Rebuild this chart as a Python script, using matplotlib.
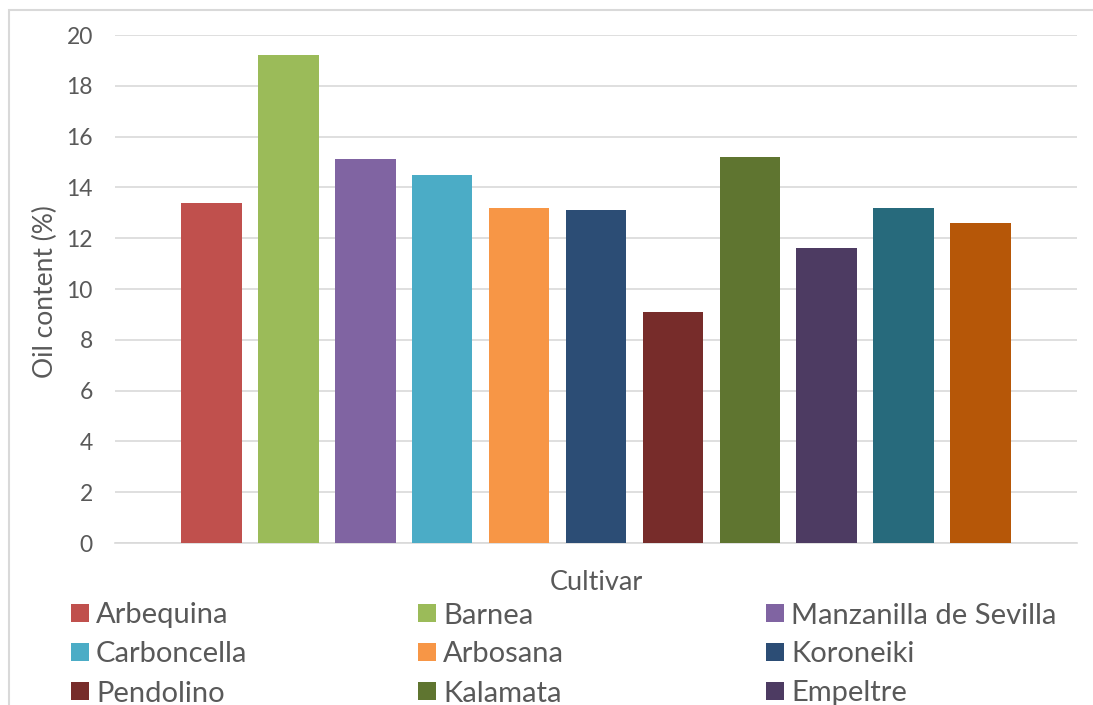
import matplotlib.pyplot as plt
from matplotlib.patches import Rectangle

# oil content per cultivar
cultivars = ["Arbequina", "Barnea", "Manzanilla de Sevilla", "Carboncella",
             "Arbosana", "Koroneiki", "Pendolino", "Kalamata", "Empeltre",
             "", ""]  # last two legend rows are cut off in the original
oil_content = [13.4, 19.2, 15.1, 14.5, 13.2, 13.1, 9.1, 15.2, 11.6, 13.2, 12.6]
colors = ["#c0504d", "#9bbb59", "#8064a2", "#4bacc6", "#f79646", "#2c4d75",
          "#772c2a", "#5f7530", "#4d3b62", "#276a7c", "#b65708"]
yticks = [0, 2, 4, 6, 8, 10, 12, 14, 16, 18, 20]

txt = "#595959"
plt.rcParams['font.family'] = ['Lato', 'DejaVu Sans']

fig = plt.figure(figsize=(10.93, 7.05), dpi=100)
W, H = 1093, 705

# outer chart frame (runs off the right and bottom edge)
fig.patches.append(Rectangle((9 / W, -0.1), 1.2, 1 - 10 / H + 0.1,
                             transform=fig.transFigure, fill=False,
                             edgecolor="#d9d9d9", linewidth=1.5))

ax = fig.add_axes([115 / W, 1 - 543 / H, (1077 - 115) / W, (543 - 35) / H])
x = range(len(oil_content))
ax.bar(x, oil_content, width=0.79, color=colors, zorder=3)
ax.set_xlim(-1.25, len(oil_content) + 0.25)
ax.set_ylim(0, 20)
ax.set_yticks(yticks)
ax.set_xticks([])
ax.yaxis.grid(True, color="#d9d9d9", linewidth=1.2, zorder=0)
ax.set_axisbelow(True)
for s in ["top", "right", "left"]:
    ax.spines[s].set_visible(False)
ax.spines["bottom"].set_color("#d9d9d9")
ax.spines["bottom"].set_linewidth(1.2)
ax.tick_params(axis="y", length=0, pad=16, labelsize=16.5, labelcolor=txt)

fig.text(45 / W, 1 - 292 / H, "Oil content (%)", rotation=90, ha="center",
         va="center", fontsize=19, color=txt)
fig.text(596 / W, 1 - 582 / H, "Cultivar", ha="center", va="center",
         fontsize=19.5, color=txt)

# legend: 3 columns, rows spaced evenly, last row falls outside the picture
col_x = [71, 418, 766]
row_y = [613, 652, 691, 730]
for i, name in enumerate(cultivars):
    if not name:
        continue
    cx = col_x[i % 3]
    cy = row_y[i // 3]
    fig.patches.append(Rectangle((cx / W, 1 - (cy + 9) / H), 18 / W, 18 / H,
                                 transform=fig.transFigure,
                                 facecolor=colors[i], edgecolor="none"))
    fig.text((cx + 25) / W, 1 - cy / H, name, ha="left", va="center_baseline",
             fontsize=21, color=txt)

fig.savefig("out.png", dpi=100)
